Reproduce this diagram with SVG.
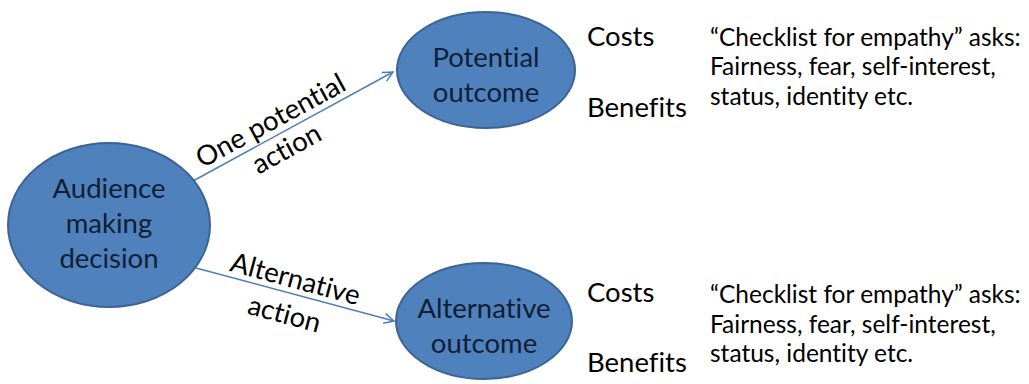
<svg xmlns="http://www.w3.org/2000/svg" width="1029" height="384" viewBox="0 0 1029 384">
<defs>
<style>
text{font-variant-ligatures:none;font-feature-settings:"liga" 0}
.node{fill:#4F81BD;stroke:#3A6496;stroke-width:2}
.nt{font-family:Lato,"Open Sans",sans-serif;font-size:27.5px;fill:#0F1E35;text-anchor:middle}
.t{font-family:Lato,"Open Sans",sans-serif;font-size:27.5px;fill:#000}
.c{font-family:Lato,"Open Sans",sans-serif;font-size:24.5px;fill:#000}
.lbl{font-family:Lato,"Open Sans",sans-serif;font-size:27.5px;fill:#000;text-anchor:middle}
.edge{stroke:#4A7EBB;stroke-width:1.5;fill:none}
</style>
<marker id="arr" viewBox="0 0 12 12" refX="11" refY="6" markerWidth="12" markerHeight="12" markerUnits="userSpaceOnUse" orient="auto">
<path d="M1,1 L11,6 L1,11" fill="none" stroke="#4A7EBB" stroke-width="1.5"/>
</marker>
</defs>
<rect width="1029" height="384" fill="#fff"/>
<g id="connectors">
<line class="edge" x1="193" y1="181" x2="393" y2="72" marker-end="url(#arr)"/>
<line class="edge" x1="196" y1="268" x2="394" y2="321" marker-end="url(#arr)"/>
<text class="lbl" transform="translate(275,129) rotate(-28.5)">One potential</text>
<text class="lbl" transform="translate(291,157) rotate(-28.5)">action</text>
<text class="lbl" transform="translate(293,288) rotate(15)">Alternative</text>
<text class="lbl" transform="translate(282,323) rotate(15)">action</text>
</g>
<g id="audience">
<ellipse class="node" cx="109" cy="225" rx="101" ry="82"/>
<text class="nt" x="109" y="198">Audience</text>
<text class="nt" x="109" y="233">making</text>
<text class="nt" x="109" y="268">decision</text>
</g>
<g id="potential">
<ellipse class="node" cx="486" cy="70" rx="89" ry="58"/>
<text class="nt" x="486" y="67">Potential</text>
<text class="nt" x="486" y="102">outcome</text>
</g>
<g id="alternative">
<ellipse class="node" cx="484" cy="321" rx="88" ry="58"/>
<text class="nt" x="484" y="318">Alternative</text>
<text class="nt" x="484" y="353">outcome</text>
</g>
<g id="top-notes">
<text class="t" x="587" y="46">Costs</text>
<text class="t" x="587" y="117">Benefits</text>
<text class="c" x="710" y="46">“Checklist for empathy” asks:</text>
<text class="c" x="710" y="75">Fairness, fear, self-interest,</text>
<text class="c" x="710" y="105">status, identity etc.</text>
</g>
<g id="bottom-notes">
<text class="t" x="587" y="302">Costs</text>
<text class="t" x="587" y="372">Benefits</text>
<text class="c" x="710" y="303">“Checklist for empathy” asks:</text>
<text class="c" x="710" y="333">Fairness, fear, self-interest,</text>
<text class="c" x="710" y="362">status, identity etc.</text>
</g>
</svg>
